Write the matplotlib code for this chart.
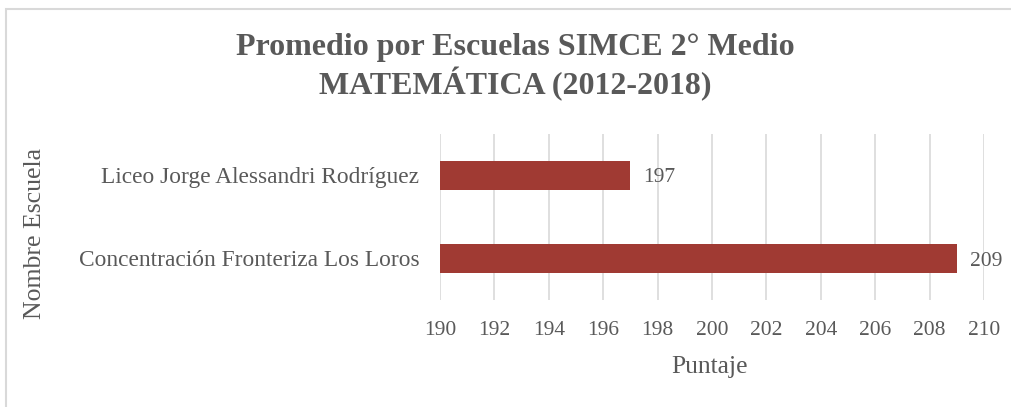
import matplotlib
matplotlib.use("Agg")
import matplotlib.pyplot as plt
from matplotlib.patches import Rectangle

schools = ["Concentración Fronteriza Los Loros", "Liceo Jorge Alessandri Rodríguez"]
scores = [209, 197]
xticks = list(range(190, 211, 2))

title = "Promedio por Escuelas SIMCE 2° Medio\nMATEMÁTICA (2012-2018)"
xlabel = "Puntaje"
ylabel = "Nombre Escuela"

TEXT = "#595959"
BAR = "#A03A33"
GRID = "#D9D9D9"
plt.rcParams['font.family'] = ['Liberation Serif', 'DejaVu Serif']

W, H = 1011, 407
fig = plt.figure(figsize=(W / 100, H / 100), dpi=100)
fig.patch.set_facecolor("white")

# outer chart border
fig.add_artist(Rectangle((6 / W, -10 / H), (W + 20) / W, (H + 1) / H, transform=fig.transFigure,
                         fill=False, edgecolor=GRID, linewidth=1.5))

ax = fig.add_axes([440 / W, 1 - 300 / H, (984 - 440) / W, (300 - 134) / H])
ypos = list(range(len(schools)))
ax.barh(ypos, [s - 190 for s in scores], left=190, height=0.36, color=BAR, zorder=3)
ax.set_xlim(190, 210)
ax.set_ylim(-0.5, 1.5)
ax.set_xticks(xticks)
ax.set_xticklabels([str(t) for t in xticks], fontsize=15.5, color=TEXT)
ax.set_yticks(ypos)
ax.set_yticklabels(schools, fontsize=16.8, color=TEXT)
ax.tick_params(axis='both', length=0)
ax.tick_params(axis='x', pad=15)
ax.tick_params(axis='y', pad=15)
ax.grid(axis='x', color=GRID, linewidth=1.2, zorder=0)
for s in ax.spines.values():
    s.set_visible(False)
ax.set_axisbelow(True)

for y, v in zip(ypos, scores):
    ax.annotate(str(v), (v, y), xytext=(13, 0), textcoords='offset pixels',
                ha='left', va='center_baseline', fontsize=15.5, color=TEXT)

fig.text(710 / W, 1 - 367 / H, xlabel, ha='center', va='center', fontsize=18.4, color=TEXT)
fig.text(35 / W, 1 - 233 / H, ylabel, ha='center', va='center', rotation=90, fontsize=18.5, color=TEXT)
fig.text(515 / W, 1 - 67 / H, title, ha='center', va='center', fontsize=23, fontweight='bold',
         color=TEXT, linespacing=1.17)

fig.savefig("out.png", dpi=100)
